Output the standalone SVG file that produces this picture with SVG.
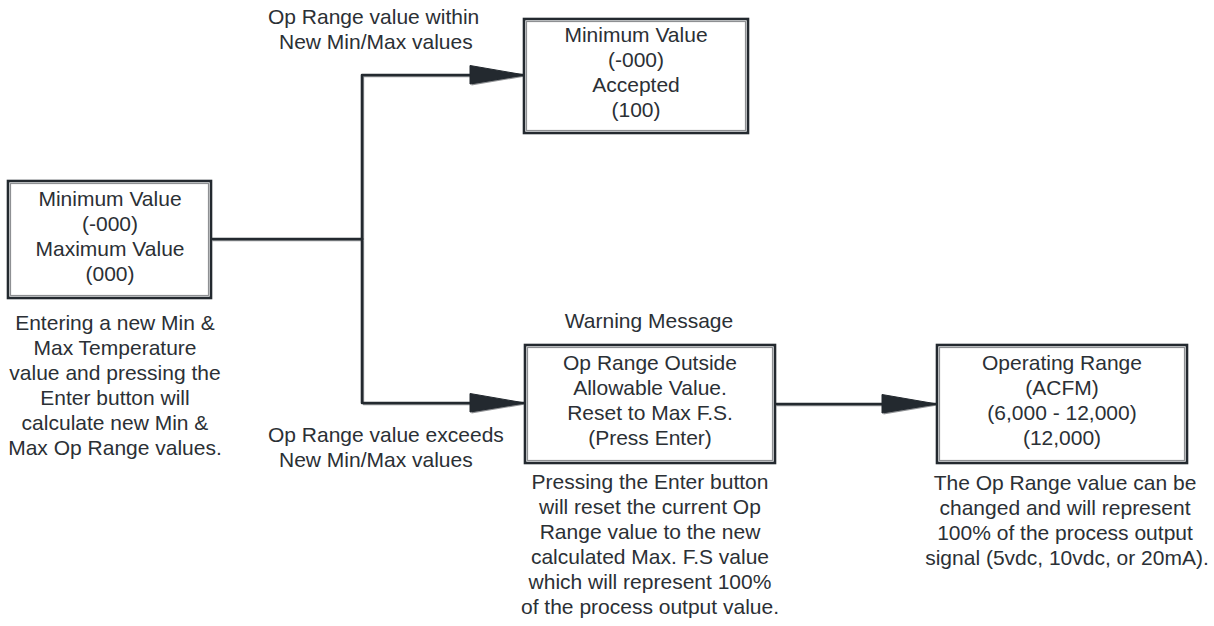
<svg xmlns="http://www.w3.org/2000/svg" width="1214" height="626" viewBox="0 0 1214 626">
  <defs>
    <style>
      .bg { fill: #ffffff; }
      .box { fill: #ffffff; stroke: #23292f; stroke-width: 2.6; }
      .box-in { fill: none; stroke: #8e9093; stroke-width: 1.2; }
      .wire { fill: none; stroke: #23292f; stroke-width: 2.6; stroke-linejoin: round; stroke-linecap: round; }
      .wire-sh { fill: none; stroke: #8e9093; stroke-width: 1.3; stroke-linejoin: round; }
      .head { fill: #23292f; stroke: #23292f; stroke-width: 1; stroke-linejoin: round; }
      .head-sh { fill: #8e9093; }
      text { font-family: "Liberation Sans", Arial, sans-serif; font-size: 21px; fill: #2b3035; }
      .c { text-anchor: middle; }
    </style>
  </defs>

  <rect class="bg" x="0" y="0" width="1214" height="626"/>

  <!-- connectors: gray shadow pass, then dark pass -->
  <g id="connectors">
    <g transform="translate(1.5,1.5)">
      <path class="wire-sh" d="M211,239 H362"/>
      <path class="wire-sh" d="M362,239 V75 H472"/>
      <path class="wire-sh" d="M362,239 V403 H472"/>
      <path class="wire-sh" d="M775,404 H884"/>
      <polygon class="head-sh" points="470,66 524,75 470,84"/>
      <polygon class="head-sh" points="470,394 524,403 470,412"/>
      <polygon class="head-sh" points="882,395 936,404 882,413"/>
    </g>
    <path class="wire" d="M211,239 H362"/>
    <path class="wire" d="M362,239 V75 H525"/>
    <path class="wire" d="M362,239 V403 H525"/>
    <path class="wire" d="M775,404 H937"/>
    <polygon class="head" points="470,65.5 525,75 470,84"/>
    <polygon class="head" points="470,393.5 525,403 470,412"/>
    <polygon class="head" points="882,394.5 937,404 882,413"/>
  </g>

  <!-- edge labels -->
  <g id="label-within">
    <text x="268" y="24">Op Range value within</text>
    <text x="279" y="49">New Min/Max values</text>
  </g>
  <g id="label-exceeds">
    <text x="268" y="442">Op Range value exceeds</text>
    <text x="279" y="467">New Min/Max values</text>
  </g>

  <!-- node: initial min/max entry -->
  <g id="node-minmax">
    <rect class="box" x="8" y="181" width="203" height="117"/>
    <rect class="box-in" x="10.5" y="183.5" width="198" height="112"/>
    <text class="c" x="110" y="206">Minimum Value</text>
    <text class="c" x="110" y="231">(-000)</text>
    <text class="c" x="110" y="256">Maximum Value</text>
    <text class="c" x="110" y="281">(000)</text>
  </g>
  <g id="note-minmax">
    <text class="c" x="115" y="330">Entering a new Min &amp;</text>
    <text class="c" x="115" y="355">Max Temperature</text>
    <text class="c" x="115" y="380">value and pressing the</text>
    <text class="c" x="115" y="405">Enter button will</text>
    <text class="c" x="115" y="430">calculate new Min &amp;</text>
    <text class="c" x="115" y="455">Max Op Range values.</text>
  </g>

  <!-- node: accepted -->
  <g id="node-accepted">
    <rect class="box" x="524" y="19" width="224" height="114"/>
    <rect class="box-in" x="526.5" y="21.5" width="219" height="109"/>
    <text class="c" x="636" y="42">Minimum Value</text>
    <text class="c" x="636" y="67">(-000)</text>
    <text class="c" x="636" y="92">Accepted</text>
    <text class="c" x="636" y="117">(100)</text>
  </g>

  <!-- node: warning -->
  <g id="node-warning">
    <text class="c" x="649" y="328">Warning Message</text>
    <rect class="box" x="525" y="345" width="250" height="118"/>
    <rect class="box-in" x="527.5" y="347.5" width="245" height="113"/>
    <text class="c" x="650" y="370">Op Range Outside</text>
    <text class="c" x="650" y="395">Allowable Value.</text>
    <text class="c" x="650" y="420">Reset to Max F.S.</text>
    <text class="c" x="650" y="445">(Press Enter)</text>
  </g>
  <g id="note-warning">
    <text class="c" x="650" y="489">Pressing the Enter button</text>
    <text class="c" x="650" y="514">will reset the current Op</text>
    <text class="c" x="650" y="539">Range value to the new</text>
    <text class="c" x="650" y="564">calculated Max. F.S value</text>
    <text class="c" x="650" y="589">which will represent 100%</text>
    <text class="c" x="650" y="614">of the process output value.</text>
  </g>

  <!-- node: operating range -->
  <g id="node-range">
    <rect class="box" x="937" y="345" width="250" height="118"/>
    <rect class="box-in" x="939.5" y="347.5" width="245" height="113"/>
    <text class="c" x="1062" y="370">Operating Range</text>
    <text class="c" x="1062" y="395">(ACFM)</text>
    <text class="c" x="1062" y="420">(6,000 - 12,000)</text>
    <text class="c" x="1062" y="445">(12,000)</text>
  </g>
  <g id="note-range">
    <text class="c" x="1065" y="490">The Op Range value can be</text>
    <text class="c" x="1065" y="515">changed and will represent</text>
    <text class="c" x="1065" y="540">100% of the process output</text>
    <text class="c" x="1067" y="565">signal (5vdc, 10vdc, or 20mA).</text>
  </g>
</svg>
